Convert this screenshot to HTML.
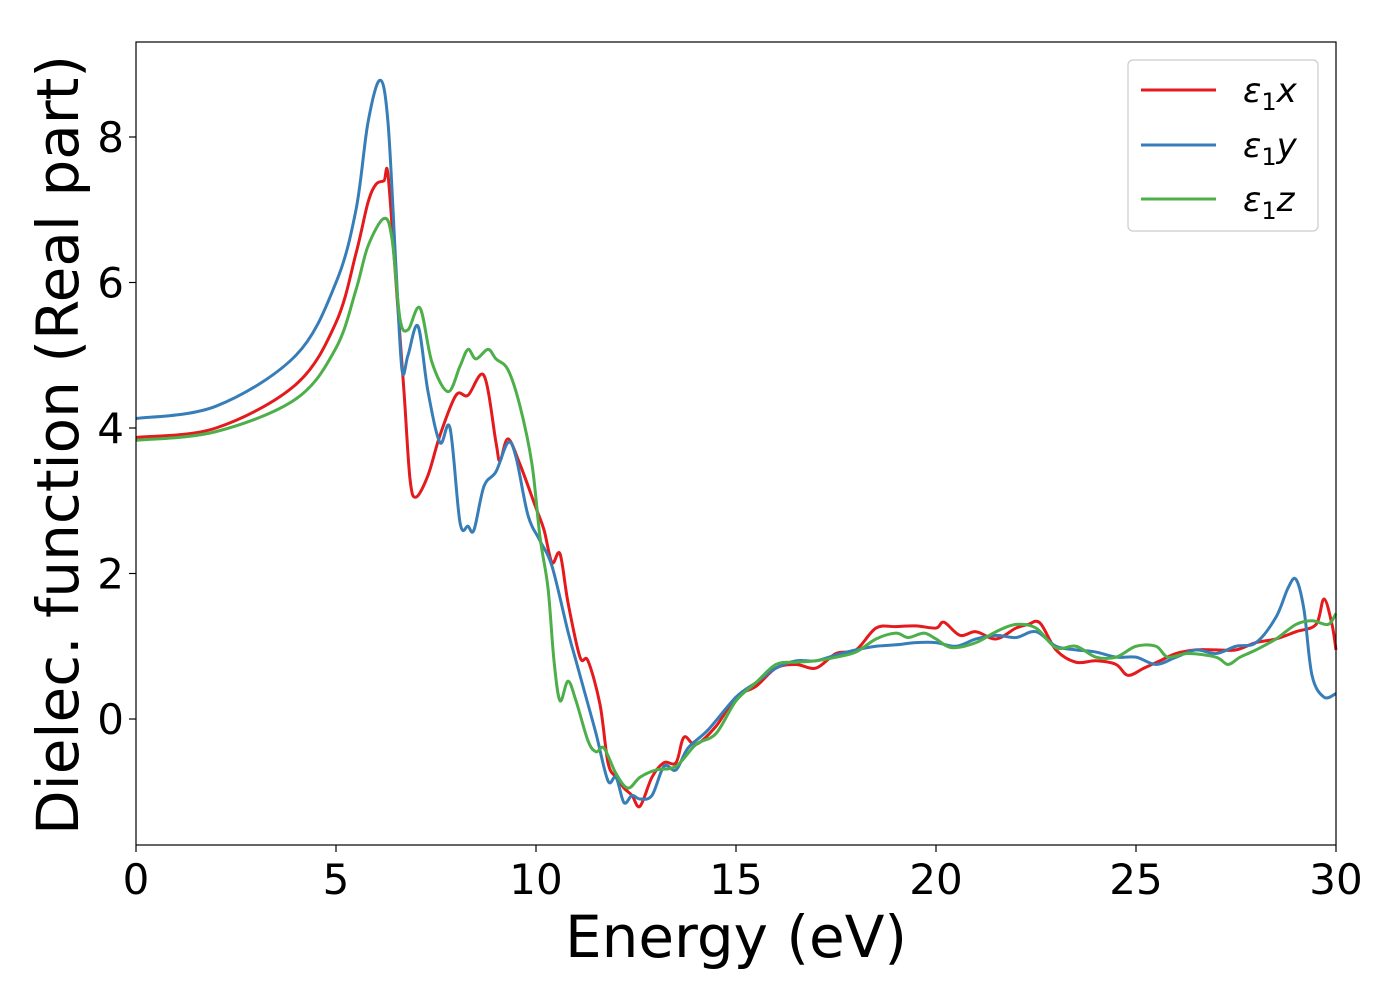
<!DOCTYPE html>
<html><head><meta charset="utf-8"><style>
body{margin:0;background:#fff;}
svg text{font-family:"DejaVu Sans","Liberation Sans",sans-serif;fill:#000;}
</style></head><body>
<svg id="chart" width="1400" height="1000" xmlns="http://www.w3.org/2000/svg">
<rect width="1400" height="1000" fill="#fff"/>
<g id="series"></g>
<rect x="136" y="42" width="1200" height="803" fill="none" stroke="#000" stroke-width="1.2"/>
<g id="xticks"></g>
<g id="yticks"></g>
<text x="736" y="957" font-size="58" text-anchor="middle">Energy (eV)</text>
<text transform="translate(78,445) rotate(-90)" font-size="58" text-anchor="middle">Dielec. function (Real part)</text>
<g>
<rect x="1128" y="60" width="190" height="171" rx="5" fill="#fff" stroke="#ccc" stroke-width="1.2"/>
<line x1="1141" y1="90" x2="1216" y2="90" stroke="#e41a1c" stroke-width="3"/>
<text x="1243" y="102" font-size="34" font-style="italic">ε<tspan font-style="normal" font-size="24" dy="8">1</tspan><tspan dy="-8">x</tspan></text>
<line x1="1141" y1="145" x2="1216" y2="145" stroke="#377eb8" stroke-width="3"/>
<text x="1243" y="157" font-size="34" font-style="italic">ε<tspan font-style="normal" font-size="24" dy="8">1</tspan><tspan dy="-8">y</tspan></text>
<line x1="1141" y1="199" x2="1216" y2="199" stroke="#4daf4a" stroke-width="3"/>
<text x="1243" y="211" font-size="34" font-style="italic">ε<tspan font-style="normal" font-size="24" dy="8">1</tspan><tspan dy="-8">z</tspan></text>
</g>
</svg>
<script>
const xTicks=[0,5,10,15,20,25,30];
const yTicks=[0,2,4,6,8];
const xE=[0,2,4,5,5.5,5.8,6.0,6.2,6.3,6.5,6.7,6.85,7.0,7.3,7.6,8.0,8.3,8.7,9.0,9.1,9.3,9.6,10.0,10.2,10.4,10.6,10.8,11.1,11.3,11.6,11.8,12.0,12.2,12.4,12.6,12.9,13.2,13.5,13.7,14.0,14.5,15.0,15.5,16.0,16.5,17.0,17.5,18.0,18.5,19.0,19.5,20.0,20.2,20.6,21.0,21.5,22.0,22.3,22.6,23.0,23.5,24.0,24.5,24.8,25.2,25.6,26.0,26.5,27.0,27.5,28.0,28.5,29.0,29.5,29.7,29.9,30];
const xV=[3.87,4.0,4.6,5.45,6.4,7.1,7.35,7.4,7.48,6.0,4.5,3.3,3.05,3.35,3.9,4.45,4.45,4.72,3.8,3.55,3.85,3.5,2.9,2.6,2.15,2.27,1.6,0.85,0.8,0.2,-0.6,-0.8,-0.95,-1.05,-1.2,-0.8,-0.6,-0.6,-0.25,-0.35,-0.1,0.3,0.45,0.7,0.75,0.7,0.9,0.95,1.25,1.27,1.28,1.25,1.33,1.15,1.2,1.1,1.25,1.3,1.32,0.95,0.78,0.8,0.75,0.6,0.7,0.8,0.9,0.95,0.95,0.95,1.05,1.1,1.2,1.3,1.65,1.3,0.95];
const yE=[0,2,4,5,5.5,5.8,6.1,6.3,6.5,6.65,6.8,7.05,7.3,7.6,7.85,8.1,8.3,8.45,8.7,9.0,9.3,9.5,9.8,10.1,10.4,10.8,11.0,11.2,11.5,11.8,12.0,12.2,12.4,12.6,12.9,13.2,13.5,13.8,14.3,15.0,15.5,16.0,16.5,17.0,17.5,18.0,18.5,19.0,19.5,20.0,20.5,21.0,21.5,22.0,22.5,23.0,23.5,24.0,24.5,25.0,25.5,26.0,26.5,27.0,27.5,28.0,28.5,28.8,29.0,29.2,29.4,29.7,30];
const yV=[4.13,4.3,5.0,6.0,7.0,8.2,8.78,8.2,6.2,4.8,5.0,5.4,4.5,3.8,4.0,2.7,2.65,2.6,3.2,3.4,3.8,3.6,2.8,2.45,2.1,1.2,0.8,0.4,-0.2,-0.85,-0.8,-1.15,-1.05,-1.1,-1.05,-0.65,-0.7,-0.4,-0.15,0.3,0.5,0.7,0.8,0.8,0.88,0.95,1.0,1.02,1.05,1.05,1.0,1.1,1.15,1.12,1.2,1.0,0.95,0.92,0.85,0.85,0.75,0.85,0.95,0.9,1.0,1.05,1.4,1.8,1.92,1.5,0.6,0.3,0.35];
const zE=[0,2,4,5,5.5,5.8,6.2,6.4,6.6,6.8,7.1,7.4,7.8,8.1,8.3,8.5,8.8,9.0,9.3,9.6,9.9,10.1,10.3,10.45,10.6,10.8,11.0,11.3,11.5,11.7,12.0,12.3,12.6,13.0,13.5,14.0,14.5,15.0,15.5,16.0,16.5,17.0,17.5,18.0,18.5,19.0,19.3,19.7,20.0,20.4,21.0,21.5,22.0,22.5,23.0,23.5,24.0,24.5,25.0,25.5,25.8,26.3,27.0,27.3,27.6,28.0,28.5,29.0,29.4,29.8,30];
const zV=[3.83,3.95,4.4,5.1,5.9,6.5,6.88,6.6,5.5,5.35,5.65,4.9,4.5,4.85,5.08,4.95,5.08,4.95,4.8,4.3,3.5,2.5,1.8,0.8,0.25,0.52,0.25,-0.3,-0.45,-0.4,-0.75,-0.95,-0.8,-0.7,-0.65,-0.35,-0.2,0.25,0.5,0.75,0.78,0.8,0.85,0.92,1.1,1.18,1.12,1.18,1.1,0.98,1.05,1.2,1.3,1.25,0.98,1.0,0.85,0.85,1.0,1.0,0.85,0.9,0.85,0.75,0.85,0.95,1.1,1.3,1.35,1.3,1.45];
const NS='http://www.w3.org/2000/svg';
const X=e=>136+e*40, Y=v=>719-v*72.75;
function path(E,V){
  const p=E.map((e,i)=>[X(e),Y(V[i])]);
  let d='M'+p[0][0]+','+p[0][1];
  for(let i=0;i<p.length-1;i++){
    const p0=p[Math.max(0,i-1)],p1=p[i],p2=p[i+1],p3=p[Math.min(p.length-1,i+2)];
    const c1=[p1[0]+(p2[0]-p0[0])/6,p1[1]+(p2[1]-p0[1])/6];
    const c2=[p2[0]-(p3[0]-p1[0])/6,p2[1]-(p3[1]-p1[1])/6];
    d+=' C'+c1[0]+','+c1[1]+' '+c2[0]+','+c2[1]+' '+p2[0]+','+p2[1];
  }
  return d;
}
const g=document.getElementById('series');
[[xE,xV,'#e41a1c','series-eps1-x'],[yE,yV,'#377eb8','series-eps1-y'],[zE,zV,'#4daf4a','series-eps1-z']].forEach(s=>{
  const el=document.createElementNS(NS,'path');
  el.setAttribute('d',path(s[0],s[1]));
  el.setAttribute('fill','none');el.setAttribute('stroke',s[2]);el.setAttribute('stroke-width','3');
  
  
  g.appendChild(el);
});
const xg=document.getElementById('xticks');
xTicks.forEach(t=>{
  const l=document.createElementNS(NS,'line');
  l.setAttribute('x1',X(t));l.setAttribute('x2',X(t));l.setAttribute('y1',845);l.setAttribute('y2',852);l.setAttribute('stroke','#000');l.setAttribute('stroke-width','1.2');
  
  
  xg.appendChild(l);
  const tx=document.createElementNS(NS,'text');
  tx.setAttribute('x',X(t));tx.setAttribute('y',894);tx.setAttribute('font-size','42');tx.setAttribute('text-anchor','middle');
  tx.textContent=t;
  
  
  xg.appendChild(tx);
});
const yg=document.getElementById('yticks');
yTicks.forEach(t=>{
  const l=document.createElementNS(NS,'line');
  l.setAttribute('x1',129);l.setAttribute('x2',136);l.setAttribute('y1',Y(t));l.setAttribute('y2',Y(t));l.setAttribute('stroke','#000');l.setAttribute('stroke-width','1.2');
  
  
  yg.appendChild(l);
  const tx=document.createElementNS(NS,'text');
  tx.setAttribute('x',124);tx.setAttribute('y',Y(t)+15);tx.setAttribute('font-size','42');tx.setAttribute('text-anchor','end');
  tx.textContent=t;
  
  
  yg.appendChild(tx);
});
</script>
</body></html>
